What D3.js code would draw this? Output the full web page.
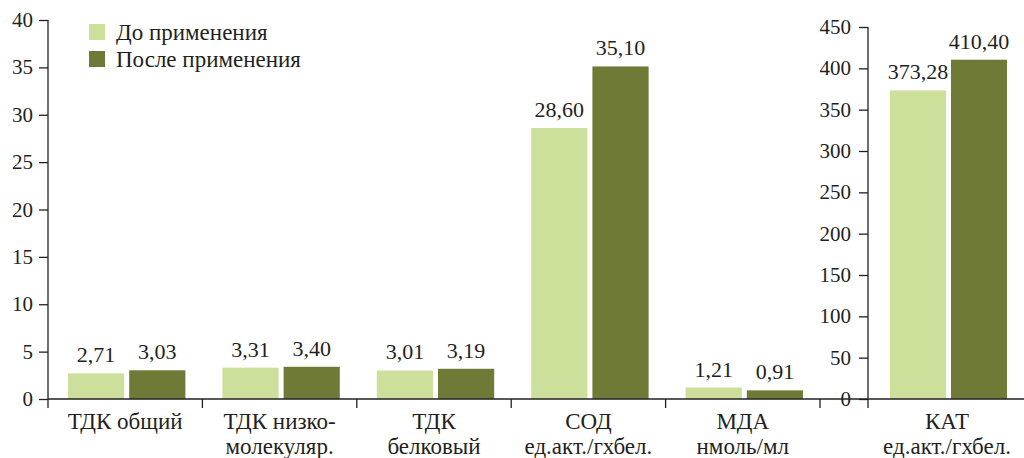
<!DOCTYPE html>
<html>
<head>
<meta charset="utf-8">
<script src="https://cdn.jsdelivr.net/npm/d3@7"></script>
<style>
  html, body { margin: 0; padding: 0; background: #fff; }
  svg { display: block; }
</style>
</head>
<body>
<svg id="chart" width="1024" height="458" font-family="Liberation Serif"></svg>
<script>
// ---- data ----
const categoriesLeft = ["ТДК общий", "ТДК низко-молекуляр.", "ТДК белковый", "СОД", "МДА"];
const labelLinesLeft = [["ТДК общий"], ["ТДК низко-", "молекуляр."], ["ТДК", "белковый"], ["СОД", "ед.акт./гхбел."], ["МДА", "нмоль/мл"]];
const categoriesRight = ["КАТ"];
const labelLinesRight = [["КАТ", "ед.акт./гхбел."]];
const seriesNames = ["До применения", "После применения"];
const beforeLeft = [2.71, 3.31, 3.01, 28.60, 1.21];
const afterLeft = [3.03, 3.40, 3.19, 35.10, 0.91];
const beforeRight = [373.28];
const afterRight = [410.40];
const ticksLeft = [0, 5, 10, 15, 20, 25, 30, 35, 40];
const ticksRight = [0, 50, 100, 150, 200, 250, 300, 350, 400, 450];
const colors = ["#cde09b", "#6e7a35"];

const fmt = v => v.toFixed(2).replace(".", ",");
const FONT = "Liberation Serif";
const ink = "#231f20";

const svg = d3.select("#chart");

// all marks first
const marks = svg.append("g").attr("class", "marks");
// all texts in one translated group, drawn last
const texts = svg.append("g").attr("class", "texts").attr("transform", "translate(0.001,0)")
  .attr("font-family", FONT).style("font-family", "'Liberation Serif', serif");

function addText(x, y, str, size, anchor) {
  return texts.append("text")
    .attr("x", x).attr("y", y)
    .attr("text-anchor", anchor)
    .attr("font-family", FONT)
    .style("font-family", "'Liberation Serif', serif")
    .attr("font-size", size)
    .attr("fill", ink)
    .text(str);
}

const yL = d3.scaleLinear().domain([0, 40]).range([399, 20]);
const yR = d3.scaleLinear().domain([0, 450]).range([399, 27]);

const xL = d3.scaleBand().domain(categoriesLeft).range([48, 820]).padding(0);
const xR = d3.scaleBand().domain(categoriesRight).range([870, 1024]).padding(0);

function inner(step) {
  return d3.scaleBand().domain(seriesNames).range([20, step - 17]).paddingInner(0.082).paddingOuter(0);
}

function drawGroup(xs, y, cats, before, after) {
  const xi = inner(xs.bandwidth());
  const data = [];
  cats.forEach((c, i) => {
    data.push({ c, s: seriesNames[0], v: before[i], k: 0 });
    data.push({ c, s: seriesNames[1], v: after[i], k: 1 });
  });
  marks.append("g").selectAll("rect").data(data).join("rect")
    .attr("x", d => xs(d.c) + xi(d.s))
    .attr("width", xi.bandwidth())
    .attr("y", d => y(d.v))
    .attr("height", d => y(0) - y(d.v))
    .attr("fill", d => colors[d.k]);
  data.forEach(d => addText(xs(d.c) + xi(d.s) + xi.bandwidth() / 2, y(d.v) - 11, fmt(d.v), 22, "middle"));
}

drawGroup(xL, yL, categoriesLeft, beforeLeft, afterLeft);
drawGroup(xR, yR, categoriesRight, beforeRight, afterRight);

function yAxis(x0, y, ticks, pad) {
  const a = marks.append("g").attr("transform", `translate(${x0},0)`)
    .call(d3.axisLeft(y).tickValues(ticks).tickSize(9).tickFormat(""));
  a.select(".domain").attr("stroke", ink).attr("stroke-width", 1.3)
    .attr("d", `M0,${y(ticks[ticks.length - 1])}V408`);
  a.selectAll(".tick line").attr("stroke", ink).attr("stroke-width", 1.3);
  a.selectAll(".tick text").remove();
  a.attr("font-family", null).attr("font-size", null);
  ticks.forEach(v => addText(x0 - 9 - pad, y(v) + 7, String(v), 21, "end"));
}
yAxis(48, yL, ticksLeft, 6);
yAxis(868, yR, ticksRight, 8);

marks.append("line").attr("x1", 48).attr("x2", 1024).attr("y1", 399).attr("y2", 399)
  .attr("stroke", ink).attr("stroke-width", 1.3);

const bounds = categoriesLeft.map(c => xL(c) + xL.bandwidth());
marks.append("g").selectAll("line").data(bounds).join("line")
  .attr("x1", d => d).attr("x2", d => d).attr("y1", 399).attr("y2", 408)
  .attr("stroke", ink).attr("stroke-width", 1.3);

function catLabels(xs, cats, lines) {
  cats.forEach((c, i) => {
    const cx = xs(c) + xs.bandwidth() / 2;
    lines[i].forEach((ln, j) => addText(cx, 429 + j * 25, ln, 23, "middle"));
  });
}
catLabels(xL, categoriesLeft, labelLinesLeft);
catLabels(xR, categoriesRight, labelLinesRight);

seriesNames.forEach((s, i) => {
  marks.append("rect").attr("x", 89).attr("y", 24 + i * 27).attr("width", 16).attr("height", 16).attr("fill", colors[i]);
  addText(116, 40 + i * 27, s, 23, "start");
});
</script>
</body>
</html>
